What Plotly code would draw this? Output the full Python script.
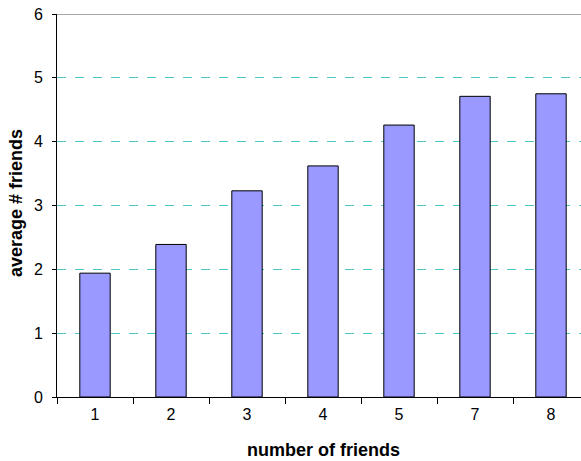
import plotly.graph_objects as go

categories = ["1", "2", "3", "4", "5", "7", "8"]
avg_friends = [1.94, 2.39, 3.23, 3.62, 4.26, 4.71, 4.75]
y_ticks = [0, 1, 2, 3, 4, 5, 6]

W, H = 581, 461
L, R, T, B = 57, 0, 14, 64
cat_px = 76.0
plot_w = W - L - R
plot_h = H - T - B
x_max = -0.5 + plot_w / cat_px

fig = go.Figure()
fig.add_trace(go.Bar(
    x=categories, y=avg_friends,
    marker=dict(color="#9999ff", line=dict(color="#000000", width=1)),
    width=0.4,
))

fig.update_layout(
    width=W, height=H,
    margin=dict(l=L, r=R, t=T, b=B, autoexpand=False),
    paper_bgcolor="white", plot_bgcolor="white",
    font=dict(family="Liberation Sans, Arial, sans-serif", size=16, color="black"),
    showlegend=False,
    xaxis=dict(
        type="category", range=[-0.5, x_max], automargin=False,
        tickson="boundaries", ticks="outside", ticklen=6, tickcolor="black",
        showline=True, linecolor="black", linewidth=1,
        showgrid=False, tickfont=dict(size=16), ticklabelstandoff=3,
    ),
    yaxis=dict(
        range=[0, 6], tickvals=y_ticks, ticks="outside", ticklen=4, tickcolor="black",
        showline=True, linecolor="black", linewidth=1, automargin=False,
        showgrid=True, gridcolor="#4cc8c8", griddash="dash", gridwidth=1,
        zeroline=False, tickfont=dict(size=16), ticklabelstandoff=6,
    ),
    shapes=[dict(type="line", xref="paper", yref="y", x0=0, x1=1, y0=6, y1=6,
                 line=dict(color="#a8a8a8", width=2))],
    annotations=[
        dict(text="<b>number of friends</b>", xref="paper", yref="paper",
             x=(323 - L) / plot_w, y=-(450 - (H - B)) / plot_h,
             xanchor="center", yanchor="middle", showarrow=False, borderpad=0,
             font=dict(size=18)),
        dict(text="<b>average # friends</b>", xref="paper", yref="paper",
             x=(16 - L) / plot_w, y=(203 - (H - B)) / -plot_h, textangle=-90,
             xanchor="center", yanchor="middle", showarrow=False,
             font=dict(size=18)),
    ],
)

fig.write_html("out.html", config={"displayModeBar": False},
               post_script="document.body.style.margin='0';document.body.style.overflow='hidden';")
